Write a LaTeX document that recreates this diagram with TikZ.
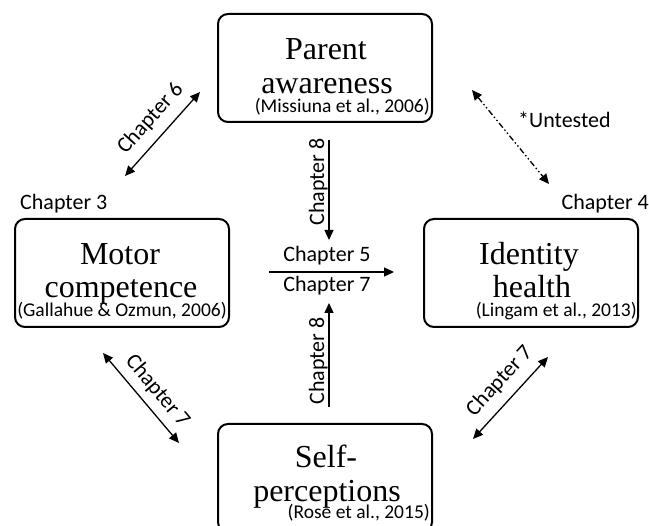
\documentclass[tikz,border=0pt]{standalone}
\usepackage{fontspec}
\setmainfont{Liberation Serif}
\newfontfamily\calfont{Carlito}
\usetikzlibrary{arrows.meta}
\begin{document}
\begin{tikzpicture}[x=1pt,y=-1pt,
 box/.style={draw, line width=2pt, rounded corners=10pt, minimum width=214pt, minimum height=108pt, inner sep=0pt},
 big/.style={font=\fontsize{32}{32}\selectfont, inner sep=0pt, anchor=base},
 cite/.style={font=\calfont\fontsize{19.5}{20}\selectfont, inner sep=0pt},
 chap/.style={font=\calfont\fontsize{22}{22}\selectfont, inner sep=0pt},
 arr/.style={line width=1.3pt, {Triangle[width=9pt,length=10pt]}-{Triangle[width=9pt,length=10pt]}},
 onearr/.style={line width=1.3pt, -{Triangle[width=9pt,length=10pt]}},
]
\useasboundingbox (0,0) rectangle (649,526);
\clip (0,0) rectangle (649,526);
% boxes
\node[box] (P) at (325,68) {};
\node[box] (M) at (122,273) {};
\node[box] (I) at (531,273) {};
\node[box] (S) at (325,478) {};
% box texts
\node[big] (pt1) at (326,60) {Parent};
\node[big] (pt2) at (327,94) {awareness};
\node[cite, anchor=base east] (pc) at (430,113) {(Missiuna et al., 2006)};
\node[big] (mt1) at (120,265) {Motor};
\node[big] (mt2) at (121,298) {competence};
\node[cite, anchor=base] (mc) at (122,317) {(Gallahue \& Ozmun, 2006)};
\node[big] (it1) at (529,265) {Identity};
\node[big] (it2) at (532,298) {health};
\node[cite, anchor=base east] (ic) at (637,317) {(Lingam et al., 2013)};
\node[big] (st1) at (326,468) {Self-};
\node[big] (st2) at (327,502) {perceptions};
\node[cite, anchor=base east] (sc) at (430,519) {(Rose et al., 2015)};
% chapter labels
\node[chap, anchor=base west] (ch3) at (20,210) {Chapter 3};
\node[chap, anchor=base east] (ch4) at (649,210) {Chapter 4};
% diagonal arrows
\coordinate (a6) at (125,176);
\coordinate (b6) at (200,92);
\draw[arr] (a6) -- (b6);
\node[chap, anchor=base, rotate=48] (l6) at (155,122.5) {Chapter 6};
\coordinate (au) at (472,90);
\coordinate (bu) at (549,184);
\draw[arr, dash pattern=on 6pt off 2.5pt on 1.5pt off 2.5pt on 1.5pt off 2.5pt] (au) -- (bu);
\node[chap, anchor=base west] (lu) at (518,128) {*Untested};
\coordinate (a7) at (103,353);
\coordinate (b7) at (179,443);
\draw[arr] (a7) -- (b7);
\node[chap, anchor=base, rotate=-50] (l7) at (153,395) {Chapter 7};
\coordinate (c7) at (473,439);
\coordinate (d7) at (548,357);
\draw[arr] (c7) -- (d7);
\node[chap, anchor=base, rotate=47.5] (r7) at (504,385) {Chapter 7};
% center arrows
\coordinate (v1) at (329,140);
\coordinate (v2) at (329,240);
\draw[onearr] (v1) -- (v2);
\node[chap, anchor=base, rotate=90] (l8a) at (324,182) {Chapter 8};
\coordinate (v3) at (329,407);
\coordinate (v4) at (329,303);
\draw[onearr] (v3) -- (v4);
\node[chap, anchor=base, rotate=90] (l8b) at (324,361) {Chapter 8};
\coordinate (h1) at (269,272);
\coordinate (h2) at (394,272);
\draw[onearr] (h1) -- (h2);
\node[chap, anchor=base] (l5) at (327,262) {Chapter 5};
\node[chap, anchor=base] (l7c) at (327,292) {Chapter 7};
\end{tikzpicture}
\end{document}
